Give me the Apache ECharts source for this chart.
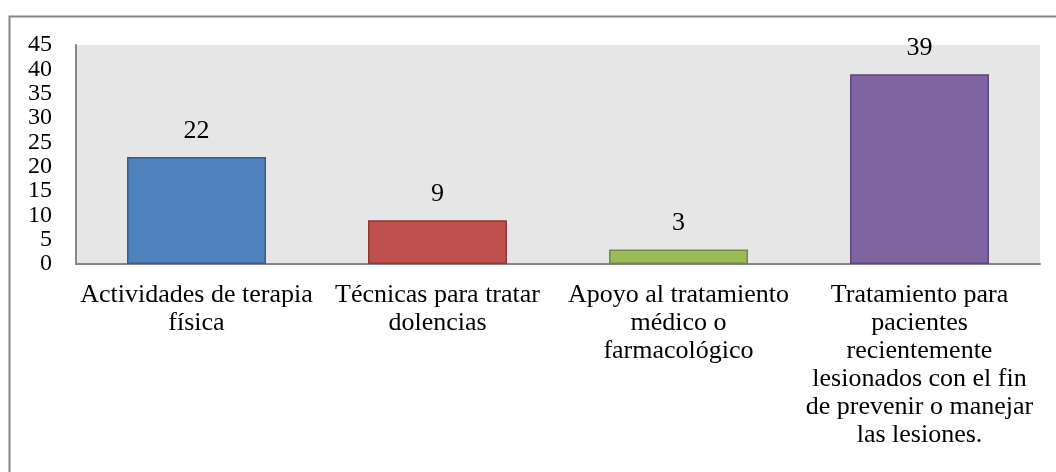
<!DOCTYPE html>
<html>
<head>
<meta charset="utf-8">
<script src="https://cdn.jsdelivr.net/npm/echarts@6/dist/echarts.min.js"></script>
<style>
  html, body { margin: 0; padding: 0; background: #fff; }
  #main { width: 1056px; height: 472px; }
</style>
</head>
<body>
<div id="main"></div>
<script>
const categories = [
  "Actividades de terapia\nfísica",
  "Técnicas para tratar\ndolencias",
  "Apoyo al tratamiento\nmédico o\nfarmacológico",
  "Tratamiento para\npacientes\nrecientemente\nlesionados con el fin\nde prevenir o manejar\nlas lesiones."
];
const values = [22, 9, 3, 39];
const yTicks = [0, 5, 10, 15, 20, 25, 30, 35, 40, 45];

// office palette: fill + darker edge
const fills = ["#4f81bd", "#c0504d", "#9bbb59", "#8064a2"];
const edges = ["#385d8a", "#8c3836", "#71893f", "#5c4776"];
const font = "'Liberation Serif', 'Times New Roman', serif";

const chart = echarts.init(document.getElementById("main"), null, { renderer: "canvas" });

chart.setOption({
  animation: false,
  textStyle: { fontFamily: font },
  graphic: [
    {
      type: "rect",
      left: 7, top: 14,
      shape: { width: 1100, height: 500 },
      style: { fill: "none", stroke: "#868686", lineWidth: 2 },
      z: 0
    }
  ],
  grid: {
    left: 76, right: 16, top: 45, bottom: 208,
    show: true,
    backgroundColor: "#e6e6e6",
    borderWidth: 0
  },
  xAxis: {
    type: "category",
    data: categories,
    axisLine: { lineStyle: { color: "#868686", width: 2 } },
    axisTick: { show: false },
    axisLabel: {
      interval: 0,
      margin: 17,
      color: "#000",
      fontFamily: font,
      fontSize: 26,
      lineHeight: 28
    }
  },
  yAxis: {
    type: "value",
    min: yTicks[0],
    max: yTicks[yTicks.length - 1],
    interval: 5,
    splitLine: { show: false },
    axisLine: { show: true, lineStyle: { color: "#868686", width: 2 } },
    axisTick: { show: false },
    axisLabel: {
      margin: 24,
      showMinLabel: true,
      showMaxLabel: true,
      color: "#000",
      fontFamily: font,
      fontSize: 24,
      lineHeight: 20
    }
  },
  series: [
    {
      type: "bar",
      barWidth: 139,
      data: values.map((v, i) => ({
        value: v,
        itemStyle: { color: fills[i], borderColor: edges[i], borderWidth: 1.5 }
      })),
      label: {
        show: true,
        position: "top",
        distance: 13,
        color: "#000",
        fontFamily: font,
        fontSize: 26
      }
    }
  ]
});
</script>
</body>
</html>
